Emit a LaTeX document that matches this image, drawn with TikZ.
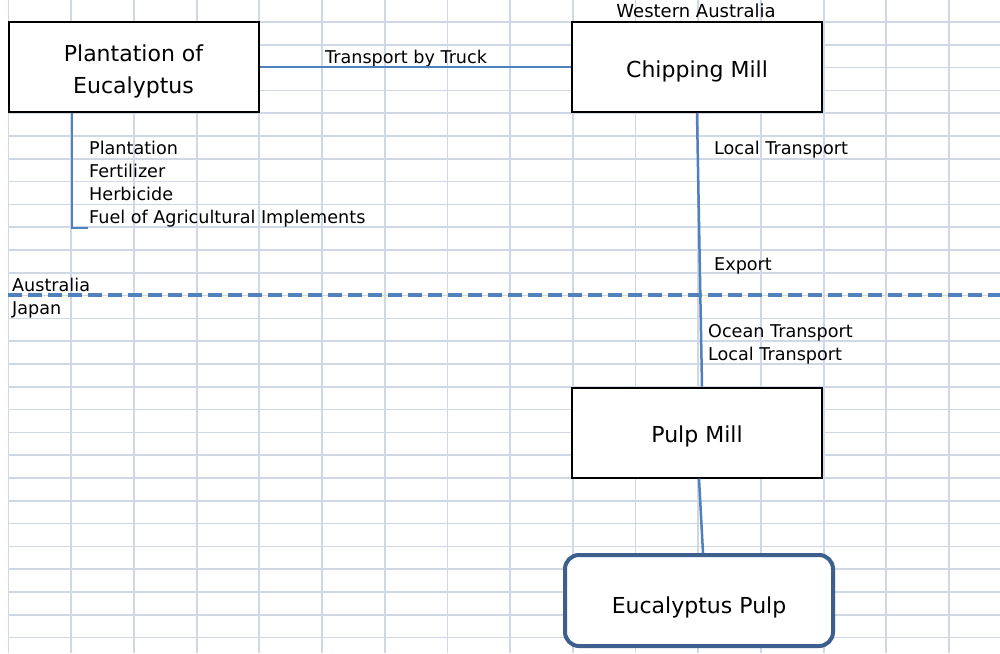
\documentclass[tikz,border=0pt]{standalone}
\usepackage{fontspec}
\setmainfont{DejaVu Sans}
\definecolor{gridc}{HTML}{D0D7E5}
\definecolor{conn}{HTML}{4F81BD}
\definecolor{darkb}{HTML}{3C5F8E}
\newcommand{\lowtxt}[2][4pt]{\raisebox{-#1}[\height][\depth]{#2}}
\begin{document}
\begin{tikzpicture}[x=1pt,y=-1pt,
  box/.style={draw=black,line width=2pt,fill=white,minimum width=250pt,minimum height=90pt,inner sep=0pt,align=center,font=\fontsize{22}{32}\selectfont},
  rbox/.style={draw=darkb,line width=4pt,fill=white,rounded corners=14pt,minimum width=268pt,minimum height=91pt,inner sep=0pt,font=\fontsize{22}{32}\selectfont},
  lbl/.style={anchor=base west,inner sep=0pt,font=\fontsize{17.6}{23}\selectfont},
  connector/.style={draw=conn,line width=2.5pt},
  border/.style={draw=conn,line width=4pt,dash pattern=on 14pt off 6pt}]
\useasboundingbox (0,0) rectangle (1000,653);
\fill[white] (0,0) rectangle (1000,653);
% grid
\foreach \k in {0,...,15} \draw[gridc,line width=1.8pt] (8.5+62.7*\k,0) -- (8.5+62.7*\k,653);
\foreach \k in {0,...,27} \draw[gridc,line width=1.6pt] (8,22+22.8*\k) -- (1000,22+22.8*\k);
% nodes
\node[box] (plant) at (133.5,67) {\lowtxt{Plantation of}\\\lowtxt{Eucalyptus}};
\node[box] (chip) at (697,67) {\lowtxt{Chipping Mill}};
\node[box] (pulp) at (697,432.5) {\lowtxt{Pulp Mill}};
\node[rbox] (eupulp) at (699,600.5) {\lowtxt[7pt]{Eucalyptus Pulp}};
% labels
\node[anchor=base,inner sep=0pt,font=\fontsize{18}{23}\selectfont] (wa) at (696,17) {Western Australia};
\node[lbl] (truck) at (325,63) {Transport by Truck};
\node[lbl] (l1) at (89,154) {Plantation};
\node[lbl] (l2) at (89,177) {Fertilizer};
\node[lbl] (l3) at (89,200) {Herbicide};
\node[lbl] (l4) at (89,223) {Fuel of Agricultural Implements};
\node[lbl] (lt1) at (714,154) {Local Transport};
\node[lbl] (exp) at (714,270) {Export};
\node[lbl] (aus) at (12,291) {Australia};
\node[lbl] (jp) at (12,314) {Japan};
\node[lbl] (ocean) at (708,337) {Ocean Transport};
\node[lbl] (lt2) at (708,360) {Local Transport};
% connectors
\coordinate (pturn) at (72,228);
\coordinate (pend) at (88,228);
\draw[connector] (plant.east) -- (chip.west);
\draw[connector] (plant.south -| pturn) -- (pturn) -- (pend);
\draw[connector] (chip.south) -- ([xshift=5pt]pulp.north);
\draw[connector] ([xshift=2pt]pulp.south) -- ([xshift=4pt]eupulp.north);
% border line
\coordinate (bl) at (8,294.5);
\coordinate (br) at (1000,294.5);
\draw[border] (bl) -- (br);
\end{tikzpicture}
\end{document}
